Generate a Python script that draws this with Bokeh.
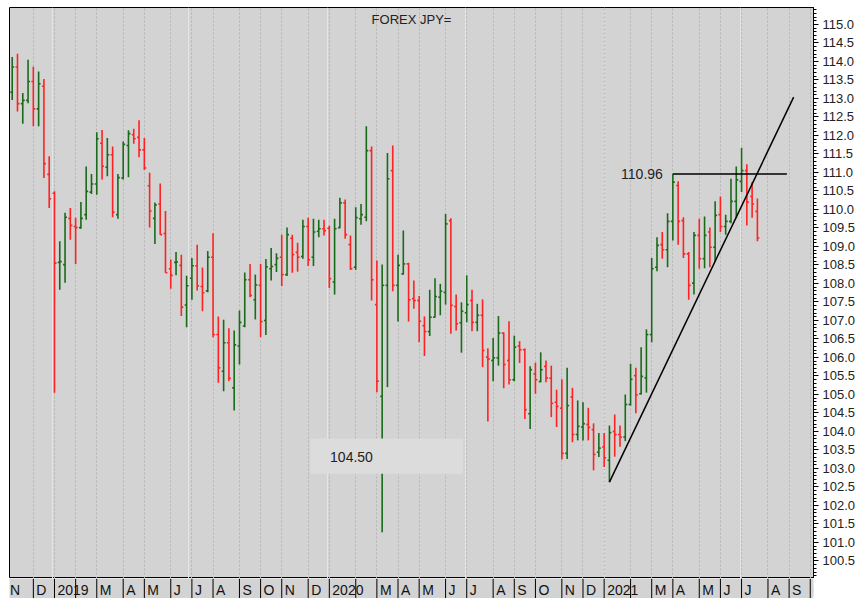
import pandas as pd
import numpy as np
from bokeh.plotting import figure
from bokeh.layouts import column
from bokeh.models import (ColumnDataSource, Range1d, FixedTicker, Grid, SingleIntervalTicker,
                          NumeralTickFormatter, Label, BoxAnnotation)
from bokeh.core.properties import value
from bokeh.embed import file_html
from bokeh.resources import INLINE

# ---------------- data: weekly USD/JPY bars (week ending Friday) ----------------
first_week = "2018-11-09"
opens = [113.17, 113.85, 112.86, 112.95, 113.46, 112.72, 113.33, 110.95, 110.44, 108.57,
         108.51, 109.76, 109.54, 109.51, 109.86, 110.47, 110.69, 111.79, 111.14, 111.48,
         109.86, 110.85, 111.73, 112.02, 111.95, 111.61, 110.64, 109.76, 110.15, 109.35,
         108.40, 108.57, 108.49, 107.42, 108.14, 108.48, 107.92, 107.80, 108.71, 106.62,
         105.63, 106.40, 105.18, 106.31, 106.85, 108.10, 107.56, 107.95, 107.00, 108.40,
         108.51, 108.71, 108.24, 109.22, 108.84, 108.73, 109.54, 108.71, 109.41, 109.48,
         109.49, 108.04, 109.51, 110.18, 109.05, 108.44, 109.75, 109.79, 111.59, 107.43,
         104.95, 107.95, 111.05, 107.95, 108.26, 108.53, 107.59, 107.54, 106.86, 106.70,
         107.09, 107.63, 107.76, 109.70, 107.38, 106.94, 107.21, 107.54, 106.95, 107.14,
         106.01, 105.92, 105.99, 106.66, 105.92, 105.40, 106.31, 106.21, 104.48, 105.56,
         105.35, 105.76, 105.44, 104.79, 104.63, 103.41, 104.93, 103.92, 104.12, 104.19,
         104.05, 103.44, 103.58, 103.22, 104.00, 103.92, 103.85, 104.73, 105.51, 105.02,
         105.45, 106.62, 108.44, 109.05, 108.91, 109.68, 110.65, 109.70, 108.80, 108.01,
         109.30, 108.67, 109.39, 108.98, 109.86, 109.54, 109.68, 110.22, 110.76, 111.05,
         110.35, 109.95]
highs = [114.12, 114.21, 113.15, 114.05, 113.86, 113.73, 113.53, 111.44, 110.49, 109.14,
         109.91, 110.04, 109.78, 110.20, 111.16, 110.96, 112.09, 112.15, 111.93, 111.70,
         110.96, 111.84, 112.14, 112.18, 112.41, 111.93, 110.99, 110.19, 110.70, 109.96,
         108.65, 108.85, 108.78, 108.21, 108.69, 109.05, 108.43, 108.88, 109.36, 107.11,
         107.02, 106.79, 106.73, 107.27, 108.30, 108.53, 108.24, 108.53, 108.66, 108.96,
         108.82, 109.32, 109.51, 109.32, 109.10, 109.72, 109.78, 109.75, 109.72, 109.72,
         109.56, 109.75, 110.32, 110.27, 109.30, 110.06, 110.15, 112.25, 111.70, 108.62,
         108.51, 111.53, 111.73, 108.78, 109.43, 108.56, 108.08, 107.66, 107.11, 107.83,
         108.14, 107.99, 109.88, 109.76, 107.70, 107.49, 108.22, 107.83, 107.45, 107.57,
         106.25, 106.53, 107.12, 106.68, 106.98, 106.59, 106.44, 106.24, 105.76, 105.86,
         106.14, 105.92, 105.78, 105.13, 105.41, 105.72, 105.18, 104.84, 104.79, 104.64,
         104.22, 103.96, 103.96, 104.16, 104.46, 104.16, 105.00, 105.83, 105.72, 106.28,
         106.76, 108.69, 109.25, 109.39, 109.90, 110.96, 110.76, 109.79, 108.85, 109.39,
         109.75, 109.81, 109.51, 110.22, 110.35, 109.86, 110.83, 111.16, 111.67, 111.22,
         110.74, 110.30]
lows = [112.96, 112.65, 112.32, 112.87, 112.25, 112.25, 110.85, 110.04, 105.05, 107.83,
        108.02, 109.18, 108.53, 109.48, 109.72, 110.42, 110.40, 110.81, 110.90, 109.79,
        109.75, 110.81, 110.87, 111.78, 111.41, 111.07, 109.51, 109.07, 109.32, 108.29,
        107.86, 108.22, 107.12, 106.82, 107.56, 107.81, 107.25, 107.76, 106.55, 105.32,
        105.09, 105.36, 104.57, 105.81, 106.82, 107.63, 107.03, 106.55, 106.61, 108.08,
        108.31, 107.93, 108.20, 108.29, 108.32, 108.67, 108.47, 108.47, 109.25, 109.30,
        107.88, 107.70, 109.49, 109.21, 108.37, 108.37, 109.59, 109.68, 107.54, 105.06,
        101.28, 105.20, 107.79, 106.97, 108.24, 106.97, 107.32, 106.41, 106.04, 106.58,
        107.08, 107.14, 107.43, 106.64, 106.73, 106.13, 106.95, 106.71, 106.71, 105.74,
        104.27, 105.36, 105.78, 105.17, 105.27, 105.36, 105.85, 104.34, 104.07, 105.02,
        105.33, 105.33, 104.39, 104.12, 103.24, 103.26, 103.71, 103.76, 103.76, 103.76,
        102.95, 103.31, 103.04, 102.63, 103.32, 103.59, 103.74, 104.70, 104.49, 105.00,
        105.05, 106.41, 108.33, 108.67, 108.44, 109.16, 109.05, 108.69, 107.56, 107.70,
        108.40, 108.41, 108.44, 108.60, 109.39, 109.32, 109.63, 109.76, 110.47, 109.57,
        109.78, 109.14]
closes = [113.85, 112.86, 112.95, 113.46, 112.72, 113.40, 111.24, 110.29, 108.55, 108.59,
          109.79, 109.57, 109.51, 109.76, 110.49, 110.69, 111.91, 111.17, 111.48, 109.93,
          110.86, 111.76, 112.05, 111.91, 111.61, 111.12, 109.96, 110.12, 109.32, 108.29,
          108.22, 108.58, 107.36, 107.94, 108.48, 107.94, 107.75, 108.71, 106.62, 105.72,
          106.40, 105.44, 106.34, 106.95, 108.10, 107.68, 107.96, 106.97, 108.45, 108.46,
          108.68, 108.24, 109.32, 108.78, 108.71, 109.54, 108.64, 109.39, 109.48, 109.43,
          108.13, 109.48, 110.18, 109.32, 108.40, 109.78, 109.86, 111.59, 108.10, 105.36,
          107.95, 110.83, 107.95, 108.49, 108.53, 107.56, 107.54, 106.98, 106.70, 107.09,
          107.65, 107.79, 109.61, 107.41, 106.91, 107.25, 107.43, 106.95, 107.14, 106.19,
          105.96, 105.99, 106.66, 105.81, 105.40, 106.28, 106.21, 104.59, 105.67, 105.40,
          105.67, 105.45, 104.76, 104.68, 103.41, 104.70, 103.92, 104.14, 104.21, 104.11,
          103.38, 103.55, 103.29, 103.97, 103.92, 103.85, 104.73, 105.41, 104.99, 105.49,
          106.62, 108.40, 109.03, 108.91, 109.68, 110.74, 109.68, 108.80, 107.95, 109.30,
          108.67, 109.30, 108.98, 109.84, 109.54, 109.68, 110.22, 110.80, 111.05, 110.20,
          110.15, 109.23]

# month axis labels (first weekly bar of each month, Nov 2018 .. Oct 2021)
month_labels = ["N", "D",
                "2019", "", "M", "A", "M", "J", "J", "A", "S", "O", "N", "D",
                "2020", "", "M", "A", "M", "J", "J", "A", "S", "O", "N", "D",
                "2021", "", "M", "A", "M", "J", "J", "A", "S", "O"]

# annotations
resistance_level = 110.96
resistance_bar = 125          # bar whose high sets the level
resistance_end = "2021-08-31"
trend_bars = (113, 133)       # bars whose lows define the trend line
trend_end = "2021-09-09"
title_text = "FOREX JPY="
box_text = "104.50"
box_left, box_right = "2019-12-09", "2020-06-28"
box_bottom, box_top = 102.86, 103.81
box_text_x, box_text_y = "2020-01-04", 103.32

# ---------------- derived ----------------
dates = pd.date_range(first_week, periods=len(opens), freq="7D")
up = np.array(closes) >= np.array(opens)
colors = np.where(up, "#1a6a1a", "#ff2222")
half = pd.Timedelta(days=2.6)
src = ColumnDataSource(dict(date=dates, left=dates - half, right=dates + half,
                            open=opens, high=highs, low=lows, close=closes, color=colors))

fridays = pd.Series(pd.date_range("2018-11-02", "2021-10-29", freq="W-FRI"))
month_ticks = fridays.groupby([fridays.dt.year, fridays.dt.month]).first().reset_index(drop=True)
tick_ms = [int(t.value // 10**6) for t in month_ticks]

x_range = Range1d(pd.Timestamp("2018-11-05 10:00"), pd.Timestamp("2021-10-05 07:00"))
y_lo, y_hi = 100.027, 115.459
FONT = "Liberation Sans"
BG = "#d3d3d3"
W, LEFT, RIGHT = 865, 9, 52

p = figure(width=W, height=578, x_range=x_range, y_range=Range1d(y_lo, y_hi),
           x_axis_type="datetime", x_axis_location=None, y_axis_location="right",
           output_backend="svg", toolbar_location=None,
           min_border_left=LEFT, min_border_top=7, min_border_bottom=0, min_border_right=RIGHT,
           background_fill_color=BG, border_fill_color="white",
           outline_line_color="black", outline_line_width=1)
p.ygrid.grid_line_color = None
p.add_layout(Grid(dimension=0, ticker=FixedTicker(ticks=tick_ms),
                  grid_line_color="#b4b4b4", grid_line_dash="2 2", grid_line_width=1))

ax = p.yaxis[0]
ax.ticker = SingleIntervalTicker(interval=0.5, num_minor_ticks=5)
ax.formatter = NumeralTickFormatter(format="0.0")
ax.major_tick_in = 0
ax.major_tick_out = 5
ax.minor_tick_in = 0
ax.minor_tick_out = 3
ax.major_label_standoff = 4
ax.axis_line_color = "black"
ax.major_tick_line_color = "black"
ax.minor_tick_line_color = "black"
ax.major_label_text_font = FONT
ax.major_label_text_font_size = "13px"
ax.major_label_text_color = "#222222"

# OHLC bars
p.segment(x0="date", y0="low", x1="date", y1="high", color="color", line_width=1.6, source=src)
p.segment(x0="left", y0="open", x1="date", y1="open", color="color", line_width=1.6, source=src)
p.segment(x0="date", y0="close", x1="right", y1="close", color="color", line_width=1.6, source=src)

# trend line through two lows, extended
i0, i1 = trend_bars
t0, t1 = dates[i0], dates[i1]
slope = (lows[i1] - lows[i0]) / (t1 - t0).total_seconds()
tend = pd.Timestamp(trend_end)
p.line(x=[t0, tend], y=[lows[i0], lows[i0] + slope * (tend - t0).total_seconds()],
       line_color="black", line_width=1.5)

# resistance line
p.line(x=[dates[resistance_bar], pd.Timestamp(resistance_end)],
       y=[resistance_level, resistance_level], line_color="black", line_width=1.5)
p.add_layout(Label(x=dates[resistance_bar], y=resistance_level, x_offset=-10,
                   text=f"{resistance_level:.2f}", text_align="right", text_baseline="middle",
                   text_font=FONT, text_font_size="14px", text_color="#222222"))

# value box
p.add_layout(BoxAnnotation(left=pd.Timestamp(box_left), right=pd.Timestamp(box_right),
                           bottom=box_bottom, top=box_top, fill_color="#dcdcdc",
                           fill_alpha=1.0, line_color=None))
p.add_layout(Label(x=pd.Timestamp(box_text_x), y=box_text_y, text=box_text,
                   text_align="left", text_baseline="middle",
                   text_font=FONT, text_font_size="14px", text_color="#222222"))

# title inside the frame
x_mid = x_range.start + (x_range.end - x_range.start) / 2
p.add_layout(Label(x=x_mid, y=y_hi - 0.32, text=title_text, text_align="center",
                   text_baseline="middle", text_font=FONT, text_font_size="13px",
                   text_color="#222222"))

# ---------------- month strip ----------------
s = figure(width=W, height=20, x_range=x_range, y_range=Range1d(0, 1),
           x_axis_location=None, y_axis_location=None,
           output_backend="svg", toolbar_location=None,
           min_border_left=LEFT, min_border_top=0, min_border_bottom=0, min_border_right=RIGHT,
           background_fill_color=BG, border_fill_color="white", outline_line_color=None)
s.grid.visible = False
ms = ColumnDataSource(dict(x=list(month_ticks), label=month_labels,
                           y0=[0] * len(month_labels), y1=[1] * len(month_labels),
                           ym=[0.45] * len(month_labels)))
s.segment(x0="x", y0="y0", x1="x", y1="y1", source=ms, line_color="black", line_width=1)
s.text(x="x", y="ym", text="label", source=ms, x_offset=3, text_align="left",
       text_baseline="middle", text_font=value(FONT), text_font_size="14px",
       text_color="#111111")

layout = column(p, s, spacing=0)
open("out.html", "w").write(file_html(layout, INLINE))
